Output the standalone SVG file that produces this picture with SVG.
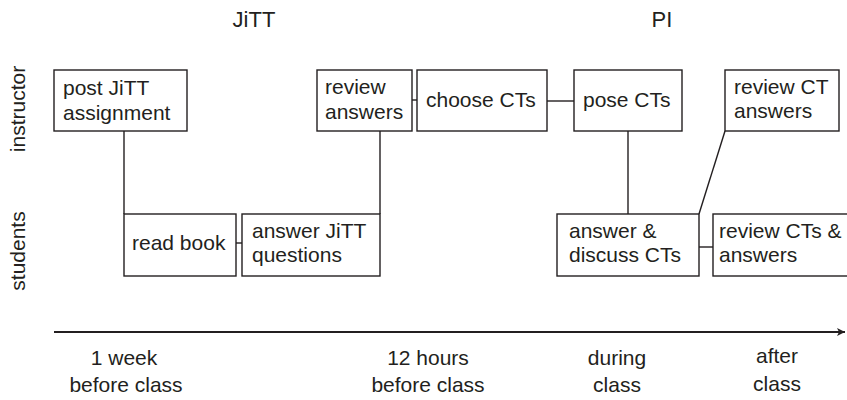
<svg xmlns="http://www.w3.org/2000/svg" width="847" height="400" viewBox="0 0 847 400">
<style>
.box{fill:#fff;stroke:#231f20;stroke-width:1.4}
.ln{fill:none;stroke:#231f20;stroke-width:1.4}
text{font-family:"Liberation Sans",Arial,sans-serif;fill:#231f20}
.t{font-size:21px}
.h{font-size:22px;text-anchor:middle}
.ax{font-size:21px;text-anchor:middle}
</style>
<defs>
<marker id="arr" markerWidth="10" markerHeight="10" refX="9" refY="5" orient="auto" markerUnits="userSpaceOnUse">
<path d="M1,1 L9,5 L1,9 L3,5 Z" fill="#231f20"/>
</marker>
</defs>
<g id="headers">
<text class="h" x="254" y="27">JiTT</text>
<text class="h" x="662" y="27">PI</text>
</g>
<g id="lanes">
<text class="ax" transform="translate(25,109) rotate(-90)">instructor</text>
<text class="ax" transform="translate(25,251) rotate(-90)">students</text>
</g>
<g id="connectors">
<polyline class="ln" points="124,131 124,214"/>
<line class="ln" x1="236" y1="243" x2="242" y2="243"/>
<polyline class="ln" points="380,131 380,214"/>
<line class="ln" x1="412" y1="100" x2="417" y2="100"/>
<line class="ln" x1="547" y1="101" x2="574" y2="101"/>
<line class="ln" x1="628" y1="131" x2="628" y2="214"/>
<line class="ln" x1="725" y1="131" x2="699" y2="214"/>
<line class="ln" x1="699" y1="247" x2="713" y2="247"/>
<line x1="54" y1="332" x2="845" y2="332" stroke="#231f20" stroke-width="2" marker-end="url(#arr)"/>
</g>
<g id="post-jitt">
<rect class="box" x="54" y="70" width="133" height="61"/>
<text class="t" x="63" y="95">post JiTT</text>
<text class="t" x="63" y="120">assignment</text>
</g>
<g id="review-answers">
<rect class="box" x="317" y="70" width="95" height="61"/>
<text class="t" x="325" y="94">review</text>
<text class="t" x="325" y="119">answers</text>
</g>
<g id="choose-cts">
<rect class="box" x="417" y="70" width="130" height="61"/>
<text class="t" x="426" y="107">choose CTs</text>
</g>
<g id="pose-cts">
<rect class="box" x="574" y="70" width="108" height="61"/>
<text class="t" x="583" y="107">pose CTs</text>
</g>
<g id="review-ct-answers">
<rect class="box" x="725" y="70" width="114" height="61"/>
<text class="t" x="734" y="94">review CT</text>
<text class="t" x="734" y="118">answers</text>
</g>
<g id="read-book">
<rect class="box" x="124" y="214" width="112" height="62"/>
<text class="t" x="132" y="250">read book</text>
</g>
<g id="answer-jitt">
<rect class="box" x="242" y="214" width="138" height="62"/>
<text class="t" x="252" y="238">answer JiTT</text>
<text class="t" x="252" y="262">questions</text>
</g>
<g id="answer-discuss">
<rect class="box" x="557" y="214" width="142" height="62"/>
<text class="t" x="569" y="238">answer &amp;</text>
<text class="t" x="569" y="262">discuss CTs</text>
</g>
<g id="review-cts-answers">
<rect class="box" x="713" y="214" width="140" height="62"/>
<text class="t" x="719" y="238">review CTs &amp;</text>
<text class="t" x="719" y="262">answers</text>
</g>
<g id="time-labels">
<text class="ax" x="124" y="365">1 week</text>
<text class="ax" x="126" y="392">before class</text>
<text class="ax" x="428" y="365">12 hours</text>
<text class="ax" x="428" y="392">before class</text>
<text class="ax" x="617" y="365">during</text>
<text class="ax" x="617" y="392">class</text>
<text class="ax" x="777" y="363">after</text>
<text class="ax" x="777" y="391">class</text>
</g>
</svg>
